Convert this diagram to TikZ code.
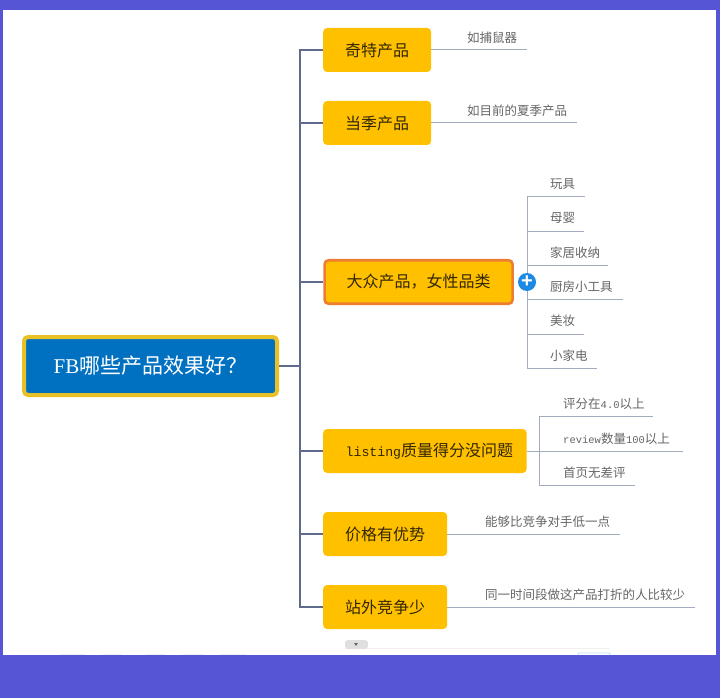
\documentclass[tikz,border=0pt]{standalone}
\usepackage{fontspec}
\setmainfont{Noto Sans CJK SC}
\setmonofont{Liberation Mono}
\newfontfamily\fbfont{Liberation Serif}
\newfontfamily\plusfont{Liberation Sans}
\definecolor{backblue}{HTML}{5555D6}
\definecolor{rootblue}{HTML}{0070C0}
\definecolor{rootgold}{HTML}{E9C127}
\definecolor{branchgold}{HTML}{FFC000}
\definecolor{branchedge}{HTML}{ED7D31}
\definecolor{trunkgrey}{HTML}{5F6B8C}
\definecolor{leafline}{HTML}{A3ACBE}
\definecolor{leaftext}{HTML}{666666}
\definecolor{plusblue}{HTML}{1E88E5}
\tikzset{
  rootbox/.style={draw=rootgold, fill=rootblue, line width=4pt, rounded corners=4pt, text=white,
    minimum width=253pt, minimum height=58pt, inner sep=0pt, font=\fontsize{21}{24}\selectfont},
  branchbox/.style={fill=branchgold, rounded corners=4pt, anchor=west, text=black!80!branchgold,
    minimum height=44pt, inner xsep=22pt, inner ysep=0pt, font=\fontsize{16}{18}\selectfont},
  leaftag/.style={anchor=west, inner sep=0pt, text=leaftext, font=\fontsize{12.5}{14}\selectfont},
  plusnode/.style={circle, fill=plusblue, text=white, minimum size=18pt, inner sep=0pt,
    font=\plusfont\bfseries\fontsize{20}{20}\selectfont},
  trunkline/.style={draw=trunkgrey, line width=2.6pt},
  twigline/.style={draw=leafline, line width=1pt},
}
\begin{document}
\begin{tikzpicture}[x=1pt, y=-1pt]
   % screenshot frame
   \fill[backblue] (0,0) rectangle (720,698);
   \fill[white] (3,10) rectangle (716,655);
   \draw[black!6, line width=0.6pt] (345,648) -- (610,648);
   \fill[black!12, rounded corners=3pt] (345,649) -- (345,640) -- (368,640) -- (368,649) -- cycle;
   \fill[black!60] (354,643) -- (358,643) -- (356,646) -- cycle;
   \foreach \a/\b in {60/85, 103/122, 145/165, 183/204, 220/246}
      \fill[black!6] (\a,653.5) rectangle (\b,655);
   \draw[plusblue!30, line width=0.8pt, rounded corners=1pt] (578,655) -- (578,653) -- (610,653) -- (610,655);

   % main topics
   \node[rootbox] (root) at (150.5,366) {{\fbfont FB}哪些产品效果好？};
   \node[branchbox] (qite) at (323,50) {奇特产品};
   \node[branchbox] (dangji) at (323,123) {当季产品};
   \node[branchbox, draw=branchedge, line width=2.6pt, minimum height=43.5pt] (dazhong) at (323.3,282) {大众产品，女性品类};
   \node[branchbox, inner xsep=13.5pt] (listing) at (323,451) {\hspace*{9pt}{\ttfamily\fontsize{13.2}{16}\selectfont listing}质量得分没问题};
   \node[branchbox] (jiage) at (323,534) {价格有优势};
   \node[branchbox] (zhanwai) at (323,607) {站外竞争少};
   \node[plusnode] (plus) at (527,282) {\raisebox{-1pt}{+}};

   % subtopics
   \begin{scope}[every node/.style={leaftag}]
    \node (tag11) at (467,38) {如捕鼠器};
    \node (tag21) at (467,111) {如目前的夏季产品};
    \node (tag31) at (550,184) {玩具};
    \node (tag32) at (550,218) {母婴};
    \node (tag33) at (550,253) {家居收纳};
    \node (tag34) at (550,287) {厨房小工具};
    \node (tag35) at (550,321) {美妆};
    \node (tag36) at (550,356) {小家电};
    \node (tag41) at (563,404) {评分在{\ttfamily\fontsize{10.5}{14}\selectfont 4.0}以上};
    \node (tag42) at (563,439) {{\ttfamily\fontsize{10.5}{14}\selectfont review}数量{\ttfamily\fontsize{10.5}{14}\selectfont 100}以上};
    \node (tag43) at (563,473) {首页无差评};
    \node (tag51) at (485,522) {能够比竞争对手低一点};
    \node (tag61) at (485,595) {同一时间段做这产品打折的人比较少};
   \end{scope}

   % free ends of the lines
   \coordinate (trunk) at (300,366);
   \coordinate (fork4) at (539.5,451);
   \coordinate (end11) at (527,50);
   \coordinate (end21) at (577,123);
   \coordinate (end31) at (585,196);
   \coordinate (end32) at (584,231);
   \coordinate (end33) at (608,265);
   \coordinate (end34) at (623,299);
   \coordinate (end35) at (584,334);
   \coordinate (end36) at (597,368);
   \coordinate (end41) at (653,416);
   \coordinate (end42) at (683,451);
   \coordinate (end43) at (635,485);
   \coordinate (end51) at (620,534);
   \coordinate (end61) at (695,607);

   \begin{scope}[every path/.style={trunkline}]
    \draw (root.east) -- (trunk);
    \draw (qite.west) -| (trunk);
    \draw (dangji.west) -| (trunk);
    \draw (dazhong.west) -| (trunk);
    \draw (listing.west) -| (trunk);
    \draw (jiage.west) -| (trunk);
    \draw (zhanwai.west) -| (trunk);
   \end{scope}
   \begin{scope}[every path/.style={twigline}]
    \draw (qite.east) -- (end11);
    \draw (dangji.east) -- (end21);
    \draw (plus) |- (end31);
    \draw (plus) |- (end32);
    \draw (plus) |- (end33);
    \draw (plus) |- (end34);
    \draw (plus) |- (end35);
    \draw (plus) |- (end36);
    \draw (listing.east) -- (end42);
    \draw (fork4) |- (end41);
    \draw (fork4) |- (end43);
    \draw (jiage.east) -- (end51);
    \draw (zhanwai.east) -- (end61);
   \end{scope}
\end{tikzpicture}
\end{document}
